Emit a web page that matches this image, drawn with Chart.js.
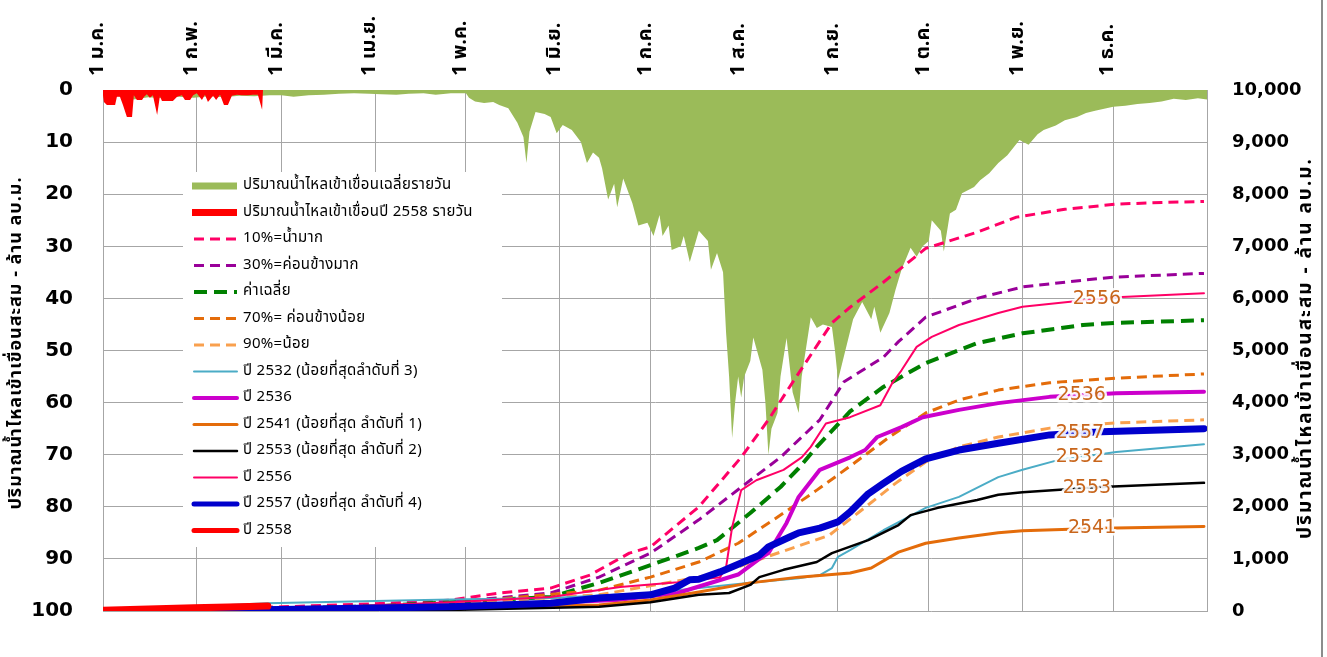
<!DOCTYPE html>
<html>
<head>
<meta charset="utf-8">
<script src="https://cdn.jsdelivr.net/npm/chart.js@4.4.1/dist/chart.umd.min.js"></script>
<style>
  html, body { margin: 0; padding: 0; background: #fff; }
  #wrap { width: 1327px; height: 657px; position: relative; }
</style>
</head>
<body>
<div id="wrap"><canvas id="myChart" width="1327" height="657"></canvas></div>
<script>
'use strict';

// x axis = day of year (0 = 1 Jan)
const monthStarts = [0, 31, 59, 90, 120, 151, 181, 212, 243, 273, 304, 334];
const monthLabels = ['1 ม.ค.', '1 ก.พ.', '1 มี.ค.', '1 เม.ย.', '1 พ.ค.', '1 มิ.ย.', '1 ก.ค.', '1 ส.ค.', '1 ก.ย.', '1 ต.ค.', '1 พ.ย.', '1 ธ.ค.'];
const leftTicks = [0, 10, 20, 30, 40, 50, 60, 70, 80, 90, 100];
const rightTicks = [0, 1000, 2000, 3000, 4000, 5000, 6000, 7000, 8000, 9000, 10000];

// daily inflow, average (left axis, million m3)
const avgDays = [0, 5, 10, 15, 20, 25, 30, 35, 40, 45, 50, 55, 59, 63, 68, 73, 78, 83, 88, 92, 97, 101, 106, 110, 115, 120, 121, 123, 126, 129, 131, 134, 137, 139, 140, 141, 143, 146, 148, 150, 152, 155, 158, 160, 162, 164, 165, 167, 169, 170, 172, 175, 177, 180, 182, 184, 185, 187, 188, 191, 192, 194, 197, 200, 201, 203, 205, 206, 207, 208, 209, 210, 211, 212, 214, 215, 218, 219, 220, 221, 223, 224, 226, 228, 230, 231, 233, 234, 236, 238, 241, 242, 243, 245, 248, 251, 254, 255, 257, 260, 262, 264, 267, 269, 271, 273, 274, 277, 278, 280, 282, 284, 288, 290, 293, 296, 299, 303, 306, 309, 311, 315, 318, 322, 325, 328, 331, 334, 338, 342, 346, 350, 354, 358, 362, 365];
const avgInflow = [1.5, 1.2, 1.8, 1.4, 1.6, 1.3, 1.5, 1.2, 1.4, 1.1, 1.2, 1.0, 1.0, 1.3, 1.0, 0.9, 0.7, 0.6, 0.7, 0.8, 0.9, 0.7, 0.6, 0.9, 0.6, 0.6, 1.5, 2.2, 2.5, 2.3, 2.9, 3.5, 6.3, 9, 14, 8, 4.2, 4.6, 5.2, 8.3, 6.7, 7.7, 10, 14, 12, 13, 15, 21, 18, 22.5, 17, 21.7, 26, 25.5, 28, 24, 28, 26, 30.7, 30, 28, 33, 27, 29, 34.5, 31.3, 35, 46.6, 55, 66.8, 60, 55, 59, 55, 52, 47.5, 53.7, 60, 70, 65, 62, 55, 47.6, 58, 62, 55, 47.4, 43.6, 45.7, 45, 45.5, 50, 55.7, 51, 44, 40.7, 44, 41.6, 46.6, 42.8, 38.4, 34.5, 30.3, 32, 30, 29, 25, 27, 31, 23.7, 23, 19.8, 18.6, 17.3, 16, 14, 12.5, 9.6, 10.5, 8.5, 7.7, 6.8, 5.8, 5.2, 4.4, 4.0, 3.6, 3.2, 3.0, 2.7, 2.5, 2.2, 1.7, 1.9, 1.6, 1.8];

// daily inflow 2558
const d2558Days = [0, 0.3, 1.3, 4, 4.6, 5.6, 6.6, 7.9, 9.6, 10.2, 11.2, 12.9, 13.6, 14.5, 15.5, 16.5, 17.9, 18.8, 19.5, 23.1, 24.5, 26.1, 27.1, 28.8, 29.8, 31, 32.7, 33.7, 34.7, 36.4, 37.4, 38.7, 40, 41.3, 42.6, 44.3, 45.9, 47.9, 49.6, 51.2, 52.6, 52.9];
const d2558Inflow = [1.0, 2.3, 2.9, 2.9, 1.3, 1.3, 2.9, 5.2, 5.2, 1.0, 1.9, 1.9, 1.3, 0.8, 1.5, 1.0, 4.8, 1.2, 2.1, 2.1, 1.3, 1.0, 1.9, 1.9, 1.0, 0.6, 1.9, 0.9, 2.3, 1.1, 1.9, 0.9, 2.9, 2.9, 1.1, 0.9, 1.0, 1.0, 0.9, 0.9, 3.8, 0];

// cumulative inflow (right axis, million m3)
const p10Days = [0, 30, 59, 90, 115, 131, 148, 161, 174, 181, 197, 211, 220, 227, 241, 247, 258, 272, 289, 302, 318, 335, 350, 364];
const p10Vol = [0, 40, 80, 140, 210, 345, 440, 690, 1110, 1230, 2000, 2950, 3670, 4300, 5530, 5830, 6310, 6960, 7270, 7560, 7710, 7810, 7840, 7860];
const p30Days = [0, 59, 90, 115, 148, 164, 181, 197, 214, 224, 237, 245, 258, 263, 272, 289, 304, 324, 335, 364];
const p30Vol = [0, 60, 100, 170, 345, 650, 1110, 1750, 2510, 2950, 3670, 4400, 4870, 5170, 5640, 6000, 6220, 6350, 6410, 6480];
const meanDays = [0, 59, 90, 115, 148, 164, 181, 197, 203, 214, 224, 230, 236, 247, 258, 272, 289, 304, 324, 335, 364];
const meanVol = [0, 50, 90, 170, 270, 540, 880, 1210, 1360, 1880, 2380, 2740, 3150, 3830, 4300, 4760, 5140, 5330, 5490, 5530, 5580];
const p70Days = [0, 59, 90, 115, 164, 181, 197, 210, 225, 236, 247, 260, 272, 283, 296, 313, 335, 364];
const p70Vol = [0, 40, 80, 150, 400, 650, 940, 1300, 1880, 2320, 2780, 3340, 3800, 4050, 4240, 4380, 4470, 4550];
const p90Days = [0, 59, 90, 115, 164, 197, 210, 220, 230, 240, 250, 262, 272, 283, 296, 313, 335, 364];
const p90Vol = [0, 40, 80, 140, 310, 650, 850, 1050, 1250, 1450, 1900, 2450, 2860, 3150, 3340, 3510, 3610, 3670];
const y2532Days = [0, 30, 54, 98, 115, 148, 181, 197, 214, 230, 237, 241, 243, 247, 258, 272, 283, 296, 304, 316, 335, 364];
const y2532Vol = [0, 80, 150, 200, 220, 250, 345, 440, 540, 630, 690, 825, 1040, 1170, 1550, 1980, 2190, 2570, 2710, 2900, 3050, 3200];
const y2536Days = [0, 59, 115, 170, 190, 210, 217, 220, 226, 230, 237, 247, 252, 256, 264, 271, 283, 296, 313, 335, 364];
const y2536Vol = [0, 30, 80, 210, 345, 700, 1000, 1110, 1690, 2190, 2710, 2950, 3090, 3340, 3530, 3720, 3860, 3990, 4110, 4180, 4210];
const y2541Days = [0, 59, 115, 164, 181, 197, 214, 230, 247, 254, 263, 272, 283, 296, 304, 330, 364];
const y2541Vol = [0, 20, 60, 115, 210, 365, 540, 650, 730, 825, 1130, 1300, 1400, 1500, 1540, 1590, 1620];
const y2553Days = [0, 59, 115, 164, 181, 197, 207, 214, 217, 225, 236, 241, 253, 263, 267, 276, 289, 296, 304, 330, 364];
const y2553Vol = [0, 10, 20, 80, 170, 310, 345, 500, 650, 790, 940, 1110, 1360, 1650, 1840, 1980, 2130, 2230, 2280, 2380, 2460];
const y2556Days = [0, 59, 115, 148, 171, 190, 204, 206, 208, 211, 216, 225, 231, 234, 239, 247, 257, 261, 264, 269, 274, 283, 296, 304, 319, 335, 364];
const y2556Vol = [0, 40, 170, 270, 460, 550, 650, 840, 1610, 2320, 2510, 2710, 2950, 3150, 3600, 3720, 3950, 4380, 4620, 5070, 5260, 5490, 5720, 5840, 5930, 6020, 6100];
const y2557Days = [0, 59, 115, 148, 164, 181, 189, 194, 197, 204, 211, 217, 220, 227, 230, 237, 243, 247, 253, 258, 264, 272, 283, 296, 313, 330, 364];
const y2557Vol = [0, 30, 80, 150, 250, 310, 440, 600, 610, 750, 920, 1070, 1230, 1420, 1500, 1590, 1710, 1900, 2250, 2450, 2680, 2920, 3090, 3220, 3380, 3440, 3500];
const y2558Days = [0, 15, 30, 45, 54.5];
const y2558Vol = [15, 40, 60, 80, 95];

const legendNames = ['ปริมาณน้ำไหลเข้าเขื่อนเฉลี่ยรายวัน', 'ปริมาณน้ำไหลเข้าเขื่อนปี 2558 รายวัน', '10%=น้ำมาก', '30%=ค่อนข้างมาก', 'ค่าเฉลี่ย', '70%= ค่อนข้างน้อย', '90%=น้อย', 'ปี 2532 (น้อยที่สุดลำดับที่ 3)', 'ปี 2536', 'ปี 2541 (น้อยที่สุด ลำดับที่ 1)', 'ปี 2553 (น้อยที่สุด ลำดับที่ 2)', 'ปี 2556', 'ปี 2557 (น้อยที่สุด ลำดับที่ 4)', 'ปี 2558'];
const axisTitle = 'ปริมาณน้ำไหลเข้าเขื่อนสะสม - ล้าน ลบ.ม.';

// end-of-line year labels: [text, series index, day]
const yearLabels = [['2556', 11, 328.6], ['2536', 8, 323.6], ['2557', 12, 323], ['2532', 7, 323], ['2553', 10, 325.3], ['2541', 9, 327]];

const thaiFont = "Tahoma, 'Noto Sans Thai', 'Noto Sans Thai UI', Garuda, Loma, 'Noto Sans', sans-serif";

function pts(days, vals) {
  return days.map((d, i) => ({ x: d, y: vals[i] }));
}

function lineSet(label, days, vals, color, width, dash) {
  return {
    type: 'line', label: label, data: pts(days, vals), yAxisID: 'y2',
    borderColor: color, backgroundColor: color, borderWidth: width,
    borderDash: dash || [], pointRadius: 0, tension: 0, fill: false,
    borderCapStyle: dash ? 'butt' : 'round', borderJoinStyle: 'round'
  };
}

const datasets = [
  { type: 'line', label: legendNames[0], data: pts(avgDays, avgInflow), yAxisID: 'y',
    borderWidth: 0, borderColor: 'rgba(0,0,0,0)', backgroundColor: '#9BBB59', pointRadius: 0, fill: 'origin', tension: 0 },
  { type: 'line', label: legendNames[1], data: pts(d2558Days, d2558Inflow), yAxisID: 'y',
    borderWidth: 0, borderColor: 'rgba(0,0,0,0)', backgroundColor: '#FF0000', pointRadius: 0, fill: 'origin', tension: 0 },
  lineSet(legendNames[2], p10Days, p10Vol, '#FF0066', 3, [10, 6]),
  lineSet(legendNames[3], p30Days, p30Vol, '#990099', 3, [10, 6]),
  lineSet(legendNames[4], meanDays, meanVol, '#008000', 4, [13, 7]),
  lineSet(legendNames[5], p70Days, p70Vol, '#E46C0A', 3, [10, 6]),
  lineSet(legendNames[6], p90Days, p90Vol, '#F9A04E', 3, [10, 6]),
  lineSet(legendNames[7], y2532Days, y2532Vol, '#4BACC6', 2),
  lineSet(legendNames[8], y2536Days, y2536Vol, '#CC00CC', 4),
  lineSet(legendNames[9], y2541Days, y2541Vol, '#E46C0A', 3),
  lineSet(legendNames[10], y2553Days, y2553Vol, '#000000', 2.5),
  lineSet(legendNames[11], y2556Days, y2556Vol, '#FF0066', 2),
  lineSet(legendNames[12], y2557Days, y2557Vol, '#0000CC', 7),
  lineSet(legendNames[13], y2558Days, y2558Vol, '#FF0000', 7)
];
// later series sit on top, like the original
datasets.forEach((ds, i) => { ds.order = -i; });

function valueAt(ds, day) {
  const d = ds.data;
  for (let i = 1; i < d.length; i++) {
    if (d[i].x >= day) {
      const t = (day - d[i - 1].x) / (d[i].x - d[i - 1].x);
      return d[i - 1].y + t * (d[i].y - d[i - 1].y);
    }
  }
  return d[d.length - 1].y;
}

function rotatedText(ctx, txt, x, y, font, spacing) {
  ctx.save();
  ctx.fillStyle = '#000';
  ctx.font = font;
  ctx.letterSpacing = spacing;
  ctx.textAlign = 'center';
  ctx.textBaseline = 'middle';
  ctx.translate(x, y);
  ctx.rotate(-Math.PI / 2);
  ctx.fillText(txt, 0, 0);
  ctx.restore();
}

const extras = {
  id: 'extras',
  afterDatasetsDraw(chart) {
    const ctx = chart.ctx;
    const xs = chart.scales.x;
    const y2 = chart.scales.y2;

    // year labels on the lines
    ctx.save();
    ctx.font = "19px 'DejaVu Sans', sans-serif";
    ctx.textAlign = 'center';
    ctx.textBaseline = 'middle';
    ctx.lineJoin = 'round';
    yearLabels.forEach(([txt, idx, day]) => {
      const px = xs.getPixelForValue(day);
      const py = y2.getPixelForValue(valueAt(chart.data.datasets[idx], day));
      ctx.strokeStyle = 'rgba(255,255,255,0.9)';
      ctx.lineWidth = 5;
      ctx.strokeText(txt, px, py);
      ctx.fillStyle = '#C8651B';
      ctx.fillText(txt, px, py);
    });
    ctx.restore();

    // legend box
    ctx.save();
    ctx.fillStyle = '#FFFFFF';
    ctx.fillRect(183, 172, 319, 375);
    ctx.font = '15px ' + thaiFont;
    ctx.letterSpacing = '0.3px';
    ctx.textBaseline = 'middle';
    ctx.textAlign = 'left';
    chart.data.datasets.forEach((ds, i) => {
      const cy = 186 + i * 26.5;
      if (i < 2) {
        ctx.fillStyle = ds.backgroundColor;
        ctx.fillRect(192, cy - 3.5, 45, 7);
      } else {
        ctx.strokeStyle = ds.borderColor;
        ctx.lineWidth = Math.min(ds.borderWidth, 5);
        ctx.setLineDash(ds.borderDash);
        ctx.lineCap = ds.borderDash.length ? 'butt' : 'round';
        ctx.beginPath();
        ctx.moveTo(194, cy);
        ctx.lineTo(237, cy);
        ctx.stroke();
        ctx.setLineDash([]);
      }
      ctx.fillStyle = '#000';
      ctx.fillText(ds.label, 243, cy);
    });
    ctx.restore();
  },
  afterDraw(chart) {
    const ctx = chart.ctx;
    rotatedText(ctx, axisTitle, 17, 343, 'bold 18px ' + thaiFont, '1px');
    rotatedText(ctx, axisTitle, 1307, 348, 'bold 19px ' + thaiFont, '2px');

    ctx.save();
    ctx.strokeStyle = '#8C8C8C';
    ctx.lineWidth = 2;
    ctx.beginPath();
    ctx.moveTo(1322, 0);
    ctx.lineTo(1322, 657);
    ctx.stroke();
    ctx.restore();
  }
};

const gridColor = '#A6A6A6';

new Chart(document.getElementById('myChart').getContext('2d'), {
  data: { datasets: datasets },
  options: {
    responsive: false,
    animation: false,
    devicePixelRatio: 1,
    layout: { padding: { left: 0, right: 0, top: 0, bottom: 46 } },
    plugins: { legend: { display: false }, tooltip: { enabled: false } },
    scales: {
      x: {
        type: 'linear', position: 'top', min: 0, max: 365,
        afterBuildTicks(scale) {
          scale.ticks = monthStarts.concat([365]).map(v => ({ value: v }));
        },
        afterFit(scale) { scale.height = 90; },
        ticks: {
          autoSkip: false, minRotation: 90, maxRotation: 90, padding: 14, labelOffset: 20, color: '#000',
          font: { family: thaiFont, size: 20, weight: 'bold' },
          callback(v) {
            const i = monthStarts.indexOf(v);
            return i >= 0 ? monthLabels[i] : '';
          }
        },
        grid: { color: gridColor, drawTicks: false },
        border: { color: gridColor }
      },
      y: {
        position: 'left', min: 0, max: 100, reverse: true,
        afterBuildTicks(scale) { scale.ticks = leftTicks.map(v => ({ value: v })); },
        afterFit(scale) { scale.width = 103; },
        ticks: { padding: 30, color: '#000', font: { family: "'DejaVu Sans', sans-serif", size: 20, weight: 'bold' } },
        grid: { color: gridColor, drawTicks: false },
        border: { color: gridColor }
      },
      y2: {
        position: 'right', min: 0, max: 10000,
        afterBuildTicks(scale) { scale.ticks = rightTicks.map(v => ({ value: v })); },
        afterFit(scale) { scale.width = 120; },
        ticks: {
          padding: 25, color: '#000', font: { family: "'DejaVu Sans', sans-serif", size: 18, weight: 'bold' },
          callback(v) { return v.toLocaleString('en-US'); }
        },
        grid: { display: false, drawTicks: false },
        border: { color: gridColor }
      }
    }
  },
  plugins: [extras]
});
</script>
</body>
</html>
